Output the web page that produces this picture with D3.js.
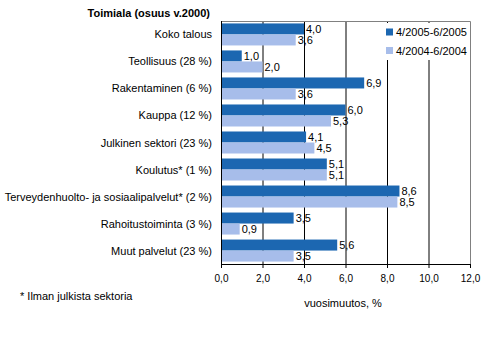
<!DOCTYPE html>
<html>
<head>
<meta charset="utf-8">
<script src="https://cdn.jsdelivr.net/npm/d3@7"></script>
<style>
  body { margin: 0; background: #fff; }
  svg { font-family: "Liberation Sans", Arial, sans-serif; font-size: 11px; }
</style>
</head>
<body>
<svg id="chart" width="497" height="342"></svg>
<script>
var categories = [
  "Koko talous",
  "Teollisuus (28 %)",
  "Rakentaminen (6 %)",
  "Kauppa (12 %)",
  "Julkinen sektori (23 %)",
  "Koulutus* (1 %)",
  "Terveydenhuolto- ja sosiaalipalvelut* (2 %)",
  "Rahoitustoiminta (3 %)",
  "Muut palvelut (23 %)"
];
var series2005 = [4.0, 1.0, 6.9, 6.0, 4.1, 5.1, 8.6, 3.5, 5.6];
var series2004 = [3.6, 2.0, 3.6, 5.3, 4.5, 5.1, 8.5, 0.9, 3.5];
var seriesNames = ["4/2005-6/2005", "4/2004-6/2004"];
var seriesColors = ["#1c67b1", "#a7bdea"];
var xTicks = [0, 2, 4, 6, 8, 10, 12];

var svg = d3.select("#chart");
var pLeft = 221, pRight = 470, pTop = 21, pBottom = 264;

var x = d3.scaleLinear().domain([0, 12]).range([pLeft, pRight]);
var y = d3.scaleBand().domain(categories).range([pTop, pBottom]).paddingInner(0.185).paddingOuter(0.09);
var fmt = function (v) { return d3.format(".1f")(v).replace(".", ","); };

// grid lines
svg.append("g")
  .selectAll("line")
  .data(xTicks.slice(1, -1))
  .join("line")
  .attr("x1", d => x(d) + 0.5).attr("x2", d => x(d) + 0.5)
  .attr("y1", pTop).attr("y2", pBottom)
  .attr("stroke", "#000").attr("stroke-width", 1);

// frame top/right (gray)
svg.append("path")
  .attr("d", "M" + pLeft + "," + (pTop + 0.5) + "H" + (pRight + 0.5) + "V" + pBottom)
  .attr("fill", "none").attr("stroke", "#808080");

var groups = [series2005, series2004];
groups.forEach(function (vals, s) {
  var bh = y.bandwidth() / 2;
  svg.append("g")
    .selectAll("rect")
    .data(vals)
    .join("rect")
    .attr("x", x(0))
    .attr("y", (d, i) => y(categories[i]) + s * bh)
    .attr("width", d => x(d) - x(0))
    .attr("height", bh)
    .attr("fill", seriesColors[s]);
  svg.append("g")
    .selectAll("text")
    .data(vals)
    .join("text")
    .attr("x", d => x(d) + 2)
    .attr("y", (d, i) => y(categories[i]) + s * bh + bh / 2 + 4)
    .attr("fill", "#000")
    .text(d => fmt(d));
});

// bottom axis
var xAxis = d3.axisBottom(x).tickValues(xTicks).tickSize(4).tickFormat(fmt);
var gx = svg.append("g").attr("transform", "translate(0," + pBottom + ")").call(xAxis);
gx.select(".domain").attr("stroke", "#000");
gx.selectAll(".tick line").attr("stroke", "#000");
gx.selectAll("text").attr("font-family", null).attr("font-size", null).attr("dy", "1.05em").attr("fill", "#000");

// left axis line
svg.append("line")
  .attr("x1", pLeft + 0.5).attr("x2", pLeft + 0.5)
  .attr("y1", pTop).attr("y2", pBottom + 0.5)
  .attr("stroke", "#000");

// category labels
svg.append("g")
  .selectAll("text")
  .data(categories)
  .join("text")
  .attr("x", 212)
  .attr("y", d => y(d) + y.bandwidth() / 2 + 4)
  .attr("text-anchor", "end")
  .text(d => d);

// title
svg.append("text")
  .attr("x", 210).attr("y", 17)
  .attr("text-anchor", "end")
  .attr("font-weight", "bold")
  .text("Toimiala (osuus v.2000)");

// legend (white box hides the grid behind it)
svg.append("rect")
  .attr("x", 384).attr("y", 23)
  .attr("width", 85).attr("height", 37)
  .attr("fill", "#fff");
seriesNames.forEach(function (n, i) {
  svg.append("rect")
    .attr("x", 386).attr("y", 28.5 + i * 18.5)
    .attr("width", 7).attr("height", 7)
    .attr("fill", seriesColors[i]);
  svg.append("text")
    .attr("x", 396).attr("y", 36 + i * 18.5)
    .text(n);
});

// axis title and footnote
svg.append("text")
  .attr("x", 343).attr("y", 307)
  .attr("text-anchor", "middle")
  .text("vuosimuutos, %");
svg.append("text")
  .attr("x", 20).attr("y", 300)
  .text("* Ilman julkista sektoria");
</script>
</body>
</html>
